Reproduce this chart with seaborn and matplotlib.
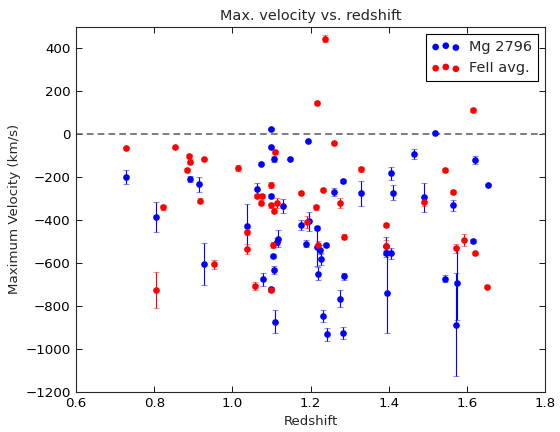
import matplotlib
matplotlib.use("Agg")
import matplotlib.pyplot as plt
import numpy as np
import pandas as pd
import seaborn as sns

# Mg 2796 (blue)
mg_z = [0.727, 0.805, 0.891, 0.915, 0.928, 1.037, 1.062, 1.074, 1.078, 1.098,
        1.0996, 1.098, 1.100, 1.105, 1.106, 1.106, 1.108, 1.113, 1.118, 1.129,
        1.147, 1.175, 1.189, 1.193, 1.197, 1.216, 1.216, 1.225, 1.227, 1.219,
        1.239, 1.232, 1.242, 1.260, 1.283, 1.285, 1.276, 1.283, 1.330, 1.394,
        1.394, 1.405, 1.395, 1.405, 1.412, 1.465, 1.490, 1.519, 1.544, 1.565,
        1.575, 1.572, 1.615, 1.620, 1.654]
mg_v = [-200, -385, -209, -234, -605, -428, -257, -137, -676, 24,
        -60, -288, -722, -569, -632, -117, -873, -500, -486, -333,
        -115, -424, -510, -30, -406, -438, -525, -538, -582, -651,
        -516, -845, -932, -271, -217, -662, -766, -926, -276, -519,
        -555, -555, -741, -183, -273, -94, -294, 6, -673, -332,
        -695, -888, -498, -120, -237]
mg_err = [33, 70, 15, 35, 97, 105, 28, 8, 31, 5,
          5, 10, 10, 10, 20, 15, 52, 15, 38, 32,
          6, 22, 16, 5, 43, 10, 88, 20, 27, 30,
          10, 28, 30, 18, 10, 16, 41, 28, 60, 42,
          15, 26, 186, 29, 34, 24, 68, 5, 15, 26,
          170, 240, 10, 20, 5]

# FeII avg. (red)
fe_z = [0.727, 0.823, 0.805, 0.852, 0.884, 0.890, 0.892, 0.916, 0.928, 0.952,
        1.015, 1.037, 1.037, 1.058, 1.062, 1.074, 1.077, 1.098, 1.100, 1.106,
        1.108, 1.115, 1.105, 1.100, 1.175, 1.190, 1.214, 1.216, 1.218, 1.231,
        1.238, 1.259, 1.276, 1.285, 1.330, 1.393, 1.393, 1.490, 1.544, 1.565,
        1.572, 1.593, 1.615, 1.620, 1.653]
fe_v = [-65, -341, -726, -60, -167, -101, -129, -309, -118, -607,
        -157, -454, -533, -706, -288, -319, -287, -236, -331, -357,
        -83, -319, -516, -726, -273, -409, -340, 147, -516, -259,
        445, -43, -319, -478, -163, -423, -519, -315, -167, -270,
        -532, -493, 113, -555, -710]
fe_err = [5, 12, 85, 5, 10, 10, 12, 12, 5, 19,
          15, 15, 23, 19, 10, 12, 10, 14, 12, 12,
          8, 23, 15, 10, 8, 27, 12, 8, 20, 8,
          15, 8, 23, 12, 12, 8, 25, 20, 8, 10,
          20, 26, 8, 8, 8]

labels = ["Mg 2796", "FeII avg."]
colors = {"Mg 2796": "blue", "FeII avg.": "red"}

df = pd.concat([
    pd.DataFrame({"z": mg_z, "v": mg_v, "err": mg_err, "line": labels[0]}),
    pd.DataFrame({"z": fe_z, "v": fe_v, "err": fe_err, "line": labels[1]}),
], ignore_index=True)

sns.set_style("ticks")
plt.rcParams["font.family"] = ["DejaVu Sans"]
plt.rcParams.update({
    "xtick.direction": "in", "ytick.direction": "in",
    "xtick.top": True, "ytick.right": True,
    "xtick.major.size": 5, "ytick.major.size": 5,
    "axes.linewidth": 1.0,
})

fig = plt.figure(figsize=(7, 5.4), dpi=80)
ax = fig.add_axes([0.136, 0.093, 0.837, 0.845])

ax.axhline(0, color="0.4", linestyle=(0, (4, 2.5)), linewidth=1.5, zorder=1)

for lab in labels:
    sub = df[df["line"] == lab]
    eb = ax.errorbar(sub["z"], sub["v"], yerr=sub["err"], fmt="none",
                     ecolor=colors[lab], elinewidth=1, capsize=3, capthick=1,
                     zorder=2)
    for cap in eb[1]:
        cap.set_alpha(0.45)
    sns.scatterplot(data=sub, x="z", y="v", color=colors[lab], s=36,
                    linewidth=0, ax=ax, legend=False, zorder=3)

handles = [ax.scatter([], [], s=36, c=colors[l], linewidths=0) for l in labels]
leg = ax.legend(handles, labels, loc="upper right", scatterpoints=3,
                scatteryoffsets=[0.375, 0.5, 0.3125], fancybox=False,
                framealpha=1, edgecolor="black", fontsize=13,
                handletextpad=0.6, borderpad=0.4)
leg.get_frame().set_linewidth(1.0)

ax.set_xlim(0.6, 1.8)
ax.set_ylim(-1200, 500)
ax.set_xticks(np.arange(0.6, 1.81, 0.2))
ax.set_yticks(np.arange(-1200, 401, 200))
ax.set_xticklabels([f"{t:.1f}" for t in np.arange(0.6, 1.81, 0.2)])
ax.tick_params(labelsize=12, colors="black", pad=5)
ax.set_xlabel("Redshift", fontsize=12)
ax.set_ylabel("Maximum Velocity (km/s)", fontsize=12)
ax.set_title("Max. velocity vs. redshift", fontsize=13)

fig.savefig("out.png", dpi=80)
